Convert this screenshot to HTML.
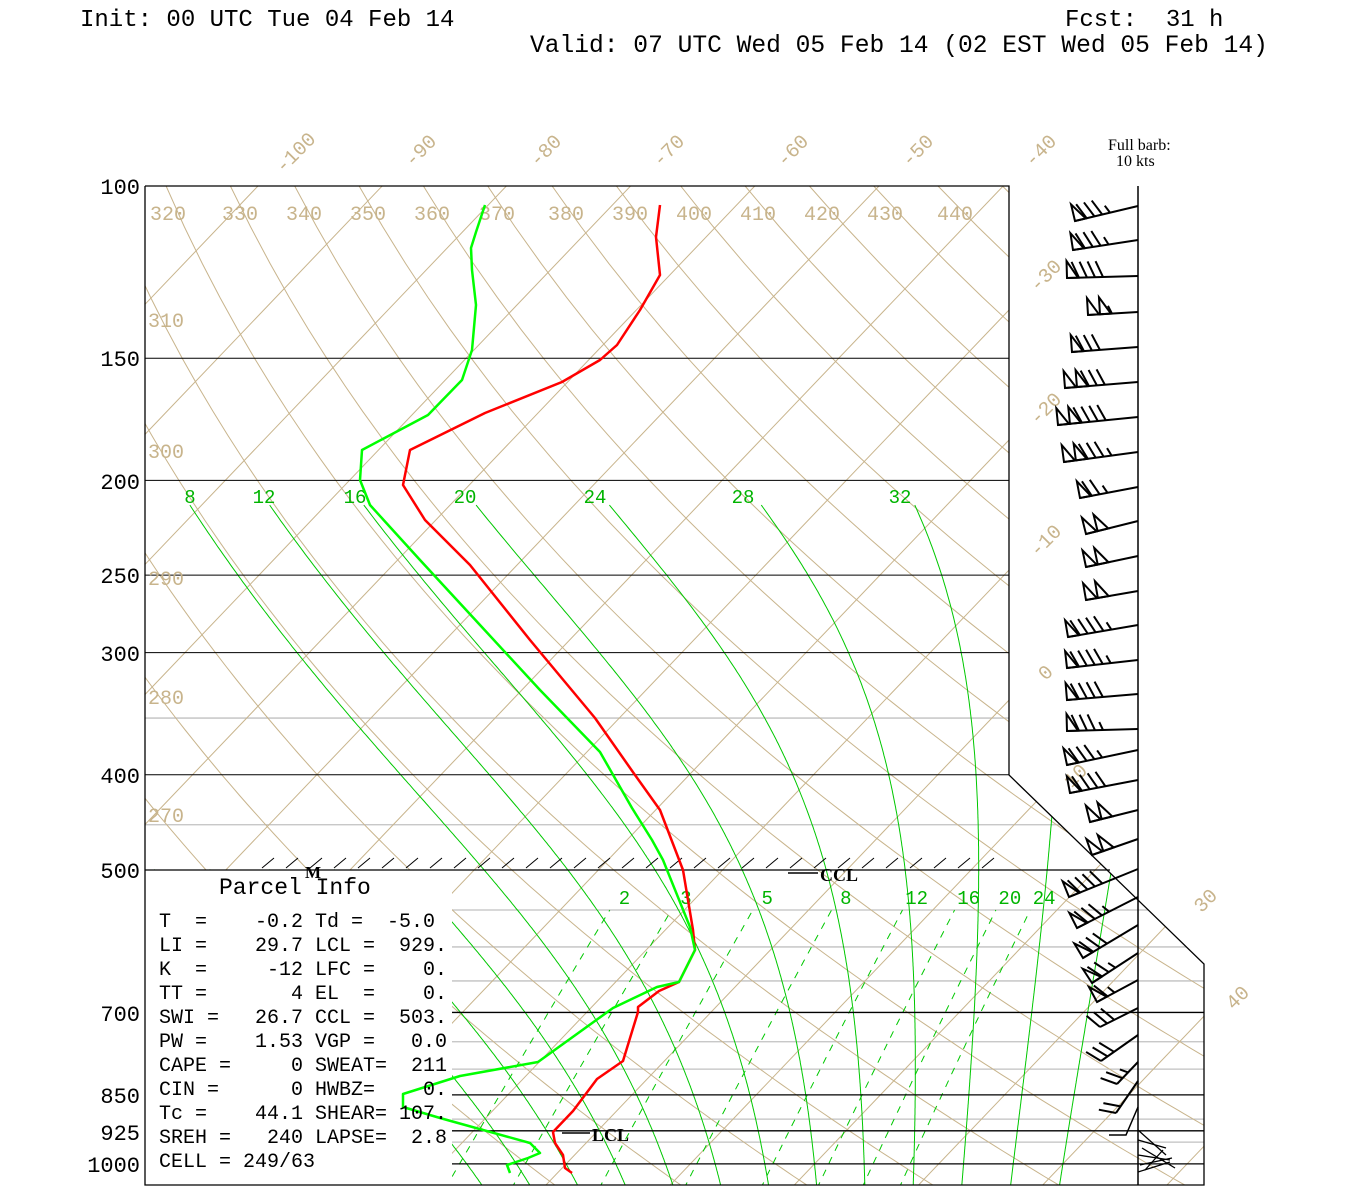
<!DOCTYPE html>
<html><head><meta charset="utf-8">
<style>
html,body{margin:0;padding:0;background:#fff;width:1350px;height:1200px;overflow:hidden;}
svg{position:absolute;left:0;top:0;}
pre{margin:0;position:absolute;font-family:"Liberation Mono",monospace;color:#000;}
</style></head>
<body>
<svg id="s" width="1350" height="1200" xmlns="http://www.w3.org/2000/svg">
<defs><clipPath id="c"><polygon points="145,186 1009,186 1009,775 1204,964 1204,1185 452,1185 452,870 145,870"/></clipPath></defs>
<g id="grid" clip-path="url(#c)" fill="none"></g>
<g id="lab" font-family="Liberation Mono, monospace"></g>
<g id="prof" fill="none" stroke-linejoin="round"></g>
<g id="barbs" fill="none" stroke="#000" stroke-width="2"></g>
</svg>
<pre style="left:80px;top:7px;font-size:24px;line-height:28px;">Init: 00 UTC Tue 04 Feb 14</pre>
<pre style="left:1065px;top:7px;font-size:24px;line-height:28px;">Fcst:  31 h</pre>
<pre style="left:530px;top:33px;font-size:24.6px;line-height:28px;">Valid: 07 UTC Wed 05 Feb 14 (02 EST Wed 05 Feb 14)</pre>
<pre style="left:1108px;top:138px;font-size:16px;line-height:16px;font-family:'Liberation Serif',serif;">Full barb:
  10 kts</pre>
<pre style="left:219px;top:874px;font-size:23px;line-height:28px;">Parcel Info</pre>
<pre style="left:159px;top:911px;font-size:20px;line-height:24px;">T  =    -0.2 Td =  -5.0
LI =    29.7 LCL =  929.
K  =     -12 LFC =    0.
TT =       4 EL  =    0.
SWI =   26.7 CCL =  503.
PW =    1.53 VGP =   0.0
CAPE =     0 SWEAT=  211
CIN =      0 HWBZ=    0.
Tc =    44.1 SHEAR= 107.
SREH =   240 LAPSE=  2.8
CELL = 249/63</pre>
<script>
(function(){
var NS="http://www.w3.org/2000/svg";
function add(par,tag,at,txt){var e=document.createElementNS(NS,tag);for(var k in at)e.setAttribute(k,at[k]);if(txt!==undefined)e.textContent=txt;document.getElementById(par).appendChild(e);return e;}
function Y(p){return 186+424.7*Math.log(p/100);}
function X(T,p){return 258+12.42*(T+100)-0.955*(Y(p)-186);}
function path(pts){return 'M'+pts.map(function(q){return q[0].toFixed(1)+','+q[1].toFixed(1);}).join('L');}
var TAN="#c8b48c";
var gray=[350,450,550,600,650,750,800,900,950];
gray.forEach(function(p){add('grid','line',{x1:145,x2:1210,y1:Y(p),y2:Y(p),stroke:"#c0c0c0","stroke-width":1.3});});
for(var T=-170;T<=60;T+=10){add('grid','line',{x1:X(T,1060),y1:Y(1060),x2:X(T,95),y2:Y(95),stroke:TAN,"stroke-width":1});}
for(var th=230;th<=470;th+=10){var pts=[];for(var p=1060;p>=95;p-=10){pts.push([X(th*Math.pow(p/1000,0.2857)-273.15,p),Y(p)]);}add('grid','path',{d:path(pts),stroke:TAN,"stroke-width":1});}
function es(tc){return 6.112*Math.exp(17.67*tc/(tc+243.5));}
function dTdp(Tk,p){var e=es(Tk-273.15);var rs=0.622*e/(p-e);var Lv=2.5e6,Rd=287,Cp=1005;return (Rd*Tk+Lv*rs)/(p*(Cp+Lv*Lv*rs*0.622/(Rd*Tk*Tk)));}
for(var tw=-28;tw<=40;tw+=4){
  var Tk=tw+273.15;
  var Td=Tk;var down=[];for(var p=1000;p<=1060;p+=2){down.push([X(Td-273.15,p),Y(p)]);var k1=dTdp(Td,p);var k2=dTdp(Td+k1,p+1);Td+=k1+k2;}
  down.reverse();
  var ptop=(tw<8)?500:212;
  var up=[];var Tu=Tk;
  for(var p=1000;p>=ptop;p-=2){up.push([X(Tu-273.15,p),Y(p)]);var k1=dTdp(Tu,p);var k2=dTdp(Tu-2*k1,p-2);Tu-=(k1+k2);}
  add('grid','path',{d:path(down.concat(up)),stroke:"#00c800","stroke-width":1});
}
[[8,190],[12,264],[16,355],[20,465],[24,595],[28,743],[32,900]].forEach(function(m){add('lab','text',{x:m[1],y:503,"text-anchor":"middle","font-size":19,fill:"#00b400"},String(m[0]));});
[2,3,5,8,12,16,20,24].forEach(function(w){
  var pts=[];for(var p=1060;p>=550;p-=10){var e=w*p/(622+w);var l=Math.log(e/6.112);var td=243.5*l/(17.67-l);pts.push([X(td,p),Y(p)]);}
  add('grid','path',{d:path(pts),stroke:"#00c800","stroke-width":1,"stroke-dasharray":"7,7"});
  var p=540;var e=w*p/(622+w);var l=Math.log(e/6.112);var td=243.5*l/(17.67-l);
  add('lab','text',{x:X(td,p)+10,y:904,"text-anchor":"middle","font-size":19,fill:"#00b400"},String(w));
});
[150,200,250,300,400].forEach(function(p){add('lab','line',{x1:145,x2:1009,y1:Y(p),y2:Y(p),stroke:"#000","stroke-width":1});});
add('lab','line',{x1:145,x2:1110,y1:870,y2:870,stroke:"#000","stroke-width":1.3});
[700,850,925,1000].forEach(function(p){add('lab','line',{x1:452,x2:1204,y1:Y(p),y2:Y(p),stroke:"#000","stroke-width":1.3});});
add('lab','polyline',{points:"145,186 1009,186 1009,775 1204,964 1204,1185 145,1185 145,186",fill:"none",stroke:"#000","stroke-width":1.3});
add('lab','line',{x1:1138,x2:1138,y1:186,y2:1185,stroke:"#000","stroke-width":1.5});
for(var hx=262;hx<=990;hx+=24){add('lab','line',{x1:hx,y1:868,x2:hx+12,y2:858,stroke:"#000","stroke-width":1});}
add('lab','text',{x:305,y:878,"font-size":17,"font-weight":"bold","font-family":"Liberation Serif, serif"},"M");
add('lab','line',{x1:788,x2:818,y1:873,y2:873,stroke:"#000","stroke-width":1.5});
add('lab','text',{x:820,y:881,"font-size":18,"font-weight":"bold","font-family":"Liberation Serif, serif"},"CCL");
add('lab','line',{x1:562,x2:590,y1:1133,y2:1133,stroke:"#000","stroke-width":1.5});
add('lab','text',{x:592,y:1141,"font-size":18,"font-weight":"bold","font-family":"Liberation Serif, serif"},"LCL");
[[100,186],[150,358],[200,481],[250,575],[300,653],[400,775],[500,870],[700,1013],[850,1095],[925,1132],[1000,1164]].forEach(function(a){add('lab','text',{x:140,y:a[1]+8,"text-anchor":"end","font-size":22},String(a[0]));});
[[320,168],[330,240],[340,304],[350,368],[360,432],[370,497],[380,566],[390,630],[400,694],[410,758],[420,822],[430,885],[440,955]].forEach(function(a){add('lab','text',{x:a[1],y:220,"text-anchor":"middle","font-size":20,fill:TAN},String(a[0]));});
[[310,320],[300,451],[290,578],[280,697],[270,815]].forEach(function(a){add('lab','text',{x:148,y:a[1]+7,"font-size":20,fill:TAN},String(a[0]));});
[["-100",295,152],["-90",420,150],["-80",545,150],["-70",668,150],["-60",792,150],["-50",917,150],["-40",1040,150],["-30",1045,275],["-20",1045,408],["-10",1045,540],["0",1045,672],["10",1075,775],["30",1205,900],["40",1237,997]].forEach(function(a){add('lab','text',{x:a[1],y:a[2]+7,"text-anchor":"middle","font-size":20,fill:TAN,transform:"rotate(-45 "+a[1]+" "+a[2]+")"},a[0]);});
var red=[[660,205],[656,237],[660,275],[640,310],[617,345],[600,360],[562,382],[485,413],[410,450],[403,485],[425,520],[470,565],[530,640],[595,718],[635,775],[660,810],[683,870],[693,930],[695,950],[679,982],[659,991],[638,1007],[638,1012],[623,1061],[597,1079],[573,1111],[553,1132],[555,1143],[563,1155],[565,1168],[572,1173]];
var grn=[[485,205],[476,232],[471,248],[472,270],[476,305],[472,350],[462,380],[428,415],[362,450],[360,480],[370,505],[420,560],[480,625],[540,690],[600,752],[632,808],[652,840],[663,860],[690,927],[695,950],[679,982],[657,987],[613,1008],[538,1062],[460,1076],[403,1094],[403,1107],[440,1118],[530,1143],[540,1153],[528,1158],[507,1165],[510,1173]];
add('prof','path',{d:path(red),stroke:"#ff0000","stroke-width":2.5});
add('prof','path',{d:path(grn),stroke:"#00ff00","stroke-width":2.5});
function barb(y0,ex,ey,el){
  var dx=1138-ex,dy=y0-ey,L=Math.sqrt(dx*dx+dy*dy);var ux=dx/L,uy=dy/L;var nx=uy,ny=-ux;
  add('barbs','line',{x1:1138,y1:y0,x2:ex,y2:ey});
  var s=0;
  function P(t){return [ex+ux*t,ey+uy*t];}
  el.split('').forEach(function(c){
    var a=P(s);
    if(c=='F'){var b=P(s+11);var t=[a[0]+nx*17,a[1]+ny*17];add('barbs','polygon',{points:a.join(',')+' '+t.join(',')+' '+b.join(',')});s+=12;}
    else if(c=='B'){var t=[a[0]+nx*16-ux*7,a[1]+ny*16-uy*7];add('barbs','line',{x1:a[0],y1:a[1],x2:t[0],y2:t[1]});s+=8;}
    else {var t=[a[0]+nx*8-ux*3.5,a[1]+ny*8-uy*3.5];add('barbs','line',{x1:a[0],y1:a[1],x2:t[0],y2:t[1]});s+=8;}
  });
}
[[206,1075,221,"FBBBH"],[240,1073,250,"FBBBH"],[276,1067,278,"FBBBB"],[312,1088,315,"FFH"],[347,1072,352,"FBBB"],[382,1065,388,"FFBBB"],[417,1058,425,"FFBBBB"],[452,1064,462,"FFBBBH"],[487,1080,498,"FBBH"],[521,1086,534,"FF"],[556,1086,567,"FF"],[591,1086,600,"FF"],[625,1068,637,"FBBBBH"],[660,1067,668,"FBBBBH"],[694,1067,700,"FBBBB"],[729,1067,731,"FBBBH"],[750,1067,765,"FBBBH"],[780,1070,793,"FBBBB"],[810,1090,822,"FF"],[839,1092,855,"FF"],[869,1069,897,"FBBBB"],[897,1077,928,"FBBBH"],[925,1083,958,"FBBB"],[953,1092,983,"FBBH"],[980,1097,1002,"FBH"],[1008,1100,1027,"BBB"],[1035,1101,1061,"BBB"],[1062,1117,1084,"BBH"],[1081,1116,1113,"BB"]].forEach(function(b){barb(b[0],b[1],b[2],b[3]);});
add('barbs','polyline',{points:"1138,1107 1126,1135 1109,1135","stroke-width":1.5});
[[1138,1130,1166,1155],[1138,1140,1166,1148],[1138,1155,1170,1160],[1140,1165,1172,1158],[1145,1170,1163,1150],[1138,1172,1170,1162],[1142,1148,1175,1168]].forEach(function(l){add('barbs','line',{x1:l[0],y1:l[1],x2:l[2],y2:l[3],"stroke-width":1.3});});
})();
</script>
</body></html>
